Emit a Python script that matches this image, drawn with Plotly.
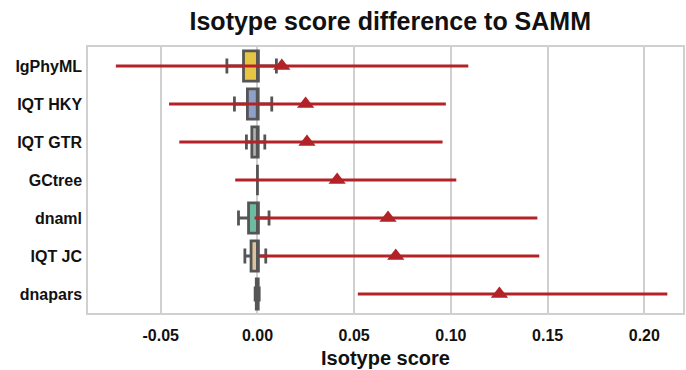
import plotly.graph_objects as go

# Methods, top to bottom
methods = ["IgPhyML", "IQT HKY", "IQT GTR", "GCtree", "dnaml", "IQT JC", "dnapars"]

# Box statistics of the isotype score difference per method
q1 = [-0.0072, -0.0052, -0.0029, 0.0, -0.0046, -0.0033, -0.0006]
median = [0.0, 0.0, 0.0, 0.0, 0.0, 0.0, 0.0]
q3 = [0.0005, 0.0004, 0.0004, 0.0, 0.0005, 0.0005, 0.0004]
whisker_lo = [-0.0158, -0.0119, -0.0057, 0.0, -0.0098, -0.0065, -0.0012]
whisker_hi = [0.0098, 0.0074, 0.0038, 0.0, 0.0060, 0.0043, 0.0009]

# Mean difference with its interval
mean = [0.0126, 0.0249, 0.0256, 0.0412, 0.0675, 0.0715, 0.1251]
ci_lo = [-0.0732, -0.0457, -0.0404, -0.0115, -0.0015, 0.0010, 0.0519]
ci_hi = [0.1090, 0.0974, 0.0957, 0.1028, 0.1447, 0.1457, 0.2119]

box_fill = ["#e6c545", "#8fa0c8", "#b3b3b3", "#a6cf63", "#6dbca2", "#dcc49c", "#e59ac4"]

x_ticks = [-0.05, 0.0, 0.05, 0.10, 0.15, 0.20]
x_ticklabels = ["-0.05", "0.00", "0.05", "0.10", "0.15", "0.20"]

FONT = "Liberation Sans, Arial, Helvetica, sans-serif"
EDGE = "#555555"
RED = "#b22226"

fig = go.Figure()

for i, m in enumerate(methods):
    fig.add_trace(go.Box(
        y=[m], orientation="h",
        q1=[q1[i]], median=[median[i]], q3=[q3[i]],
        lowerfence=[whisker_lo[i]], upperfence=[whisker_hi[i]],
        fillcolor=box_fill[i],
        line=dict(color=EDGE, width=2.8),
        whiskerwidth=0.5, width=0.8,
        boxpoints=False, showlegend=False, hoverinfo="skip",
    ))

# Interval lines
lx, ly = [], []
for i, m in enumerate(methods):
    lx += [ci_lo[i], ci_hi[i], None]
    ly += [m, m, None]
fig.add_trace(go.Scatter(
    x=lx, y=ly, mode="lines",
    line=dict(color=RED, width=3),
    showlegend=False, hoverinfo="skip",
))

# Mean markers
fig.add_trace(go.Scatter(
    x=mean, y=methods, mode="markers",
    marker=dict(symbol="triangle-up", size=15, color=RED, line=dict(width=0)),
    showlegend=False,
))

fig.update_layout(
    width=686, height=370,
    margin=dict(l=88, r=1, t=47, b=57),
    paper_bgcolor="white", plot_bgcolor="white",
    font=dict(family=FONT, color="#111111"),
    boxmode="overlay",
    title=dict(
        text="Isotype score difference to SAMM",
        font=dict(size=25, family=FONT, weight="bold", color="#111111"),
        x=0.508, xref="paper", xanchor="center",
        y=1 - 21 / 370, yref="container", yanchor="middle",
    ),
    xaxis=dict(
        range=[-0.0876, 0.2200],
        tickvals=x_ticks, ticktext=x_ticklabels,
        tickfont=dict(size=16, weight="bold", family=FONT, color="#111111"),
        showgrid=True, gridcolor="#d0d0d0", gridwidth=1.5,
        zeroline=False,
        showline=True, linecolor="#d0d0d0", linewidth=1.5, mirror=True,
        ticks="", ticklabelstandoff=7,
        title=dict(text="Isotype score", standoff=8,
                   font=dict(size=20, weight="bold", family=FONT, color="#111111")),
    ),
    yaxis=dict(
        type="category",
        categoryorder="array", categoryarray=methods,
        range=[6.5, -0.5],
        tickfont=dict(size=16, weight="bold", family=FONT, color="#111111"),
        showgrid=False, zeroline=False,
        showline=True, linecolor="#d0d0d0", linewidth=1.5, mirror=True,
        ticks="", ticklabelstandoff=1,
    ),
)

fig.write_html("out.html")
